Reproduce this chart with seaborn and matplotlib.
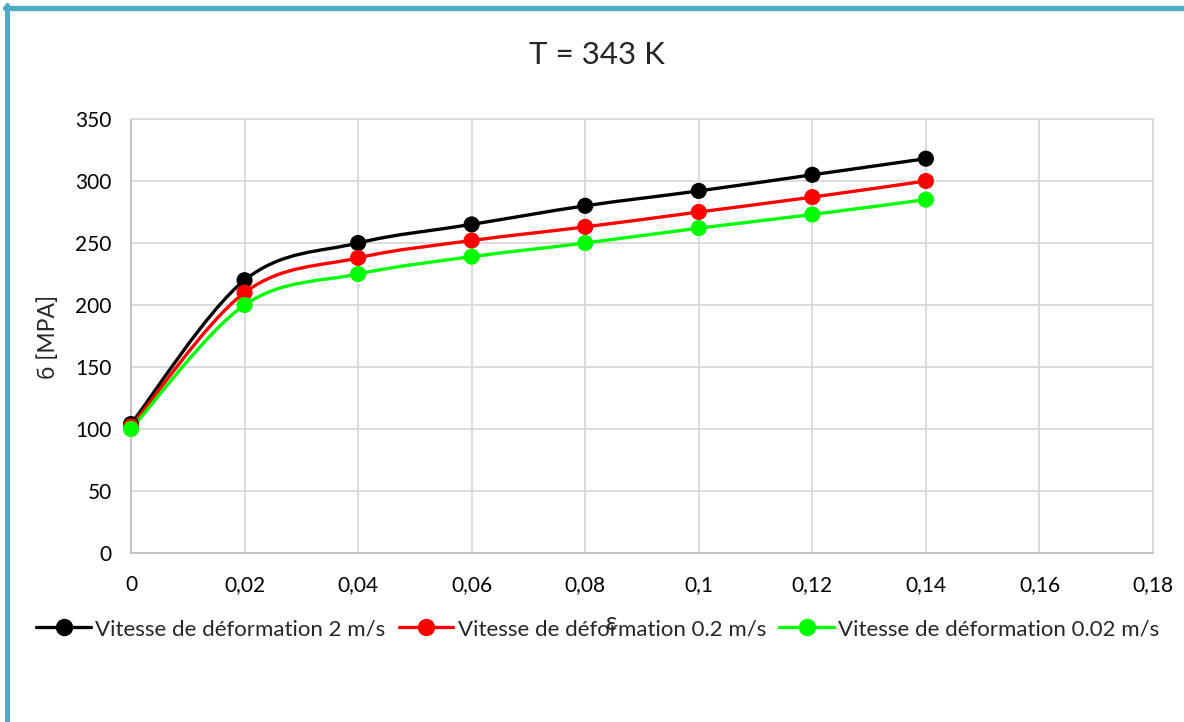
import numpy as np
import matplotlib
matplotlib.use("Agg")
import matplotlib.pyplot as plt
import seaborn as sns
import pandas as pd
from matplotlib.path import Path
from matplotlib.patches import PathPatch
from matplotlib.lines import Line2D

# ---- data ----
strain = [0.0, 0.02, 0.04, 0.06, 0.08, 0.10, 0.12, 0.14]
stress_2 = [104, 220, 250, 265, 280, 292, 305, 318]
stress_02 = [102, 210, 238, 252, 263, 275, 287, 300]
stress_002 = [100, 200, 225, 239, 250, 262, 273, 285]
series_names = ["Vitesse de déformation 2 m/s",
                "Vitesse de déformation 0.2 m/s",
                "Vitesse de déformation 0.02 m/s"]
series_colors = ["#000000", "#FF0000", "#00FF00"]
x_ticks = [0, 0.02, 0.04, 0.06, 0.08, 0.10, 0.12, 0.14, 0.16, 0.18]
x_tick_labels = ["0", "0,02", "0,04", "0,06", "0,08", "0,1", "0,12", "0,14", "0,16", "0,18"]
y_ticks = [0, 50, 100, 150, 200, 250, 300, 350]
title = "T = 343 K"
ylabel = "ϭ [MPA]"
xlabel = "ε"

sns.set_theme(style="white")
plt.rcParams["font.family"] = ["Lato", "DejaVu Sans"]

fig = plt.figure(figsize=(11.84, 7.22), dpi=100)
ax = fig.add_axes([131/1184, 1-553/722, (1153-131)/1184, (553-119)/722])

df = pd.concat([
    pd.DataFrame({"strain": strain, "stress": vals, "series": name})
    for name, vals in zip(series_names, [stress_2, stress_02, stress_002])
])
palette = dict(zip(series_names, series_colors))


def smooth_path(xs, ys):
    pts = np.column_stack([xs, ys]).astype(float)
    n = len(pts)
    verts = [pts[0]]
    codes = [Path.MOVETO]
    for i in range(n - 1):
        p0 = pts[i - 1] if i > 0 else pts[i]
        p1 = pts[i]
        p2 = pts[i + 1]
        p3 = pts[i + 2] if i + 2 < n else pts[i + 1]
        c1 = p1 + (p2 - p0) / 6.0
        c2 = p2 - (p3 - p1) / 6.0
        verts += [c1, c2, p2]
        codes += [Path.CURVE4] * 3
    return Path(verts, codes)


for name, vals, col in zip(series_names, [stress_2, stress_02, stress_002], series_colors):
    patch = PathPatch(smooth_path(strain, vals), facecolor="none", edgecolor=col,
                      lw=2.4, zorder=2, capstyle="round")
    ax.add_patch(patch)

sns.scatterplot(data=df, x="strain", y="stress", hue="series", palette=palette,
                s=135, edgecolor="none", linewidth=0, ax=ax, legend=False, zorder=3,
                clip_on=False)

ax.set_xlim(0, 0.18)
ax.set_ylim(0, 350)
ax.set_xticks(x_ticks)
ax.set_xticklabels(x_tick_labels)
ax.set_yticks(y_ticks)
ax.tick_params(axis="both", length=0, labelsize=15, colors="#000000")
ax.tick_params(axis="x", pad=16)
ax.tick_params(axis="y", pad=14)
ax.grid(True, color="#d9d9d9", lw=1.3)
for sp in ax.spines.values():
    sp.set_color("#d9d9d9")
    sp.set_linewidth(1.3)
ax.spines["left"].set_color("#bfbfbf")
ax.spines["bottom"].set_color("#bfbfbf")
ax.set_xlabel("")
ax.set_ylabel("")

fig.text(597/1184, 1-55/722, title, ha="center", va="center", fontsize=22.5)
fig.text(48/1184, 1-337/722, ylabel, ha="center", va="center", rotation=90, fontsize=16.5)

handles = [Line2D([], [], color=c, lw=2.4, marker="o", markersize=11.5) for c in series_colors]
leg = ax.legend(handles, series_names, loc="center", bbox_to_anchor=(598/1184, 1-629/722),
                bbox_transform=fig.transFigure, ncol=3, frameon=False, fontsize=16,
                handlelength=2.45, handletextpad=0.2, columnspacing=0.6)

fig.text(612/1184, 1-622/722, xlabel, ha="center", va="center", fontsize=18, zorder=10)

# frame border (teal)
fig.add_artist(Line2D([7/1184, 7/1184], [0, 1-5/722], color="#4BACC6", lw=3.6,
                      transform=fig.transFigure))
fig.add_artist(Line2D([5/1184, 1], [1-7.5/722, 1-7.5/722], color="#4BACC6", lw=3.8,
                      transform=fig.transFigure))

fig.savefig("out.png", dpi=100, facecolor="white")
